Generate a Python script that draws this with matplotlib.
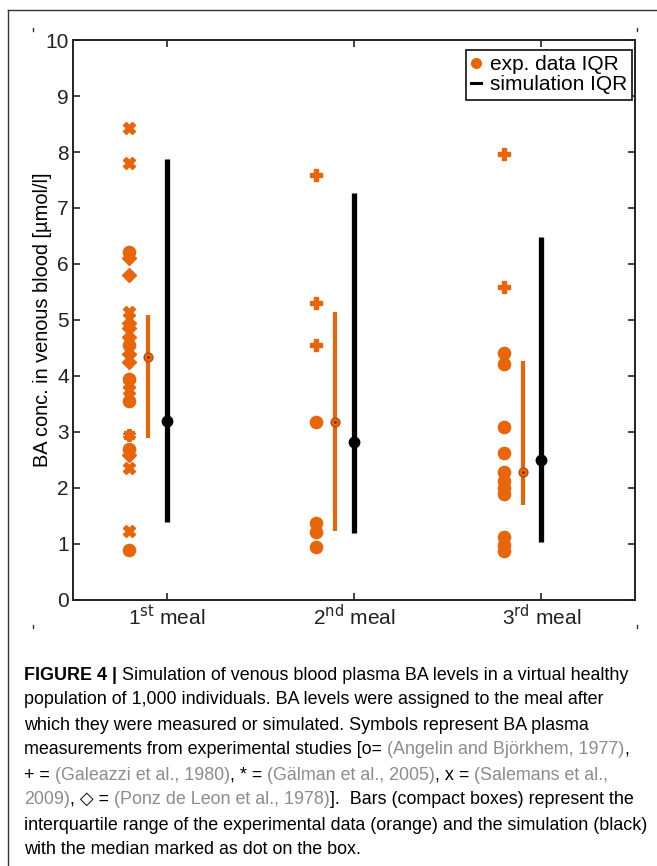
import numpy as np
import matplotlib
matplotlib.use("Agg")
import matplotlib.pyplot as plt
from matplotlib.lines import Line2D

plt.rcParams['font.family'] = ['Liberation Sans', 'DejaVu Sans']

# data
meals = ['1$^{\\mathrm{st}}$ meal', '2$^{\\mathrm{nd}}$ meal', '3$^{\\mathrm{rd}}$ meal']

# experimental points per meal, per study marker
exp_o = [[6.22, 4.55, 3.95, 3.55, 2.70, 0.90],
         [3.17, 1.38, 1.22, 0.95],
         [4.41, 4.21, 3.09, 2.63, 2.29, 2.12, 2.00, 1.90, 1.13, 0.98, 0.88]]
exp_plus = [[], [7.59, 5.30, 4.56], [7.96, 5.59]]
exp_star = [[2.95], [], []]
exp_x = [[8.43, 7.80, 5.15, 3.85, 3.75, 2.36, 1.23], [], []]
exp_d = [[6.10, 5.80, 4.95, 4.85, 4.70, 4.40, 4.25, 2.58], [], []]

exp_q1 = [2.89, 1.23, 1.70]
exp_med = [4.34, 3.17, 2.29]
exp_q3 = [5.09, 5.14, 4.27]

sim_q1 = [1.40, 1.20, 1.04]
sim_med = [3.20, 2.82, 2.50]
sim_q3 = [7.87, 7.26, 6.49]

orange = '#E8650A'
gray = '#8c8c8c'

fig = plt.figure(figsize=(6.57, 8.66), dpi=100)
ax = fig.add_axes([0.111, 0.3072, 0.8555, 0.6466])

xpos = np.arange(1, 4)
for i, x in enumerate(xpos):
    xe = x - 0.2
    ax.plot([xe] * len(exp_o[i]), exp_o[i], 'o', color=orange, ms=8.8, mec=orange)
    ax.plot([xe] * len(exp_plus[i]), exp_plus[i], 'P', color=orange, ms=9, mec=orange)
    ax.plot([xe] * len(exp_star[i]), exp_star[i], marker=(6, 2, 0), ls='none',
            color=orange, ms=9, mew=3)
    ax.plot([xe] * len(exp_x[i]), exp_x[i], 'X', color=orange, ms=9, mec=orange)
    ax.plot([xe] * len(exp_d[i]), exp_d[i], 'D', color=orange, ms=7, mec=orange)

    # experimental IQR
    ax.plot([x - 0.1, x - 0.1], [exp_q1[i], exp_q3[i]], color=orange, lw=3, solid_capstyle='butt')
    ax.plot(x - 0.1, exp_med[i], 'o', color=orange, ms=6.5, mec='#b04500', mew=0.8)
    ax.plot(x - 0.1, exp_med[i], '.', color='#402000', ms=1.5)

    # simulation IQR
    ax.plot([x, x], [sim_q1[i], sim_q3[i]], color='black', lw=3.8, solid_capstyle='butt')
    ax.plot(x, sim_med[i], 'o', color='black', ms=7.5)

ax.set_xlim(0.5, 3.5)
ax.set_ylim(0, 10)
ax.set_yticks(range(0, 11))
ax.set_xticks(xpos)
ax.set_xticklabels(meals)
ax.tick_params(direction='in', length=5, width=1.2, top=True, right=True,
               labelsize=15, colors='#222222', pad=3)
ax.tick_params(axis='x', pad=3)
for s in ax.spines.values():
    s.set_linewidth(1.4)
    s.set_color('#222222')
ax.set_ylabel('BA conc. in venous blood [µmol/l]', fontsize=14.4)
ax.yaxis.set_label_coords(-0.037, 0.5)

handles = [Line2D([], [], marker='o', ls='none', color=orange, ms=7),
           Line2D([], [], ls='-', color='black', lw=2.2)]
leg = ax.legend(handles, ['exp. data IQR', 'simulation IQR'], loc='upper right',
                fontsize=15, handlelength=0.5, handletextpad=0.4, borderpad=0.25,
                labelspacing=0.05, fancybox=False, framealpha=1, borderaxespad=0,
                edgecolor='#222222', bbox_to_anchor=(0.995, 0.982))
leg.get_frame().set_linewidth(1.3)

# outer frame
W, H = 657.0, 866.0
fig.add_artist(Line2D([8 / W, 8 / W], [0, 1 - 10 / H], color='#333333', lw=1.0,
                      transform=fig.transFigure))
fig.add_artist(Line2D([8 / W, 1], [1 - 10 / H, 1 - 10 / H], color='#333333', lw=1.0,
                      transform=fig.transFigure))
# small crop marks
for (cx, cy) in [(33, 28), (33, 625), (637, 28), (637, 625)]:
    fig.add_artist(Line2D([cx / W, cx / W], [1 - cy / H, 1 - (cy + 3) / H],
                          color='#333333', lw=1.0, transform=fig.transFigure))

# caption
cap = [
    [('FIGURE 4 |', 'k', 'bold'), (' Simulation of venous blood plasma BA levels in a virtual healthy', 'k', 'normal')],
    [('population of 1,000 individuals. BA levels were assigned to the meal after', 'k', 'normal')],
    [('which they were measured or simulated. Symbols represent BA plasma', 'k', 'normal')],
    [('measurements from experimental studies [o= ', 'k', 'normal'),
     ('(Angelin and Björkhem, 1977)', gray, 'normal'), (',', 'k', 'normal')],
    [('+ = ', 'k', 'normal'), ('(Galeazzi et al., 1980)', gray, 'normal'), (', * = ', 'k', 'normal'),
     ('(Gälman et al., 2005)', gray, 'normal'), (', x = ', 'k', 'normal'),
     ('(Salemans et al.,', gray, 'normal')],
    [('2009)', gray, 'normal'), (', \u25c7 = ', 'k', 'normal'),
     ('(Ponz de Leon et al., 1978)', gray, 'normal'),
     ('].  Bars (compact boxes) represent the', 'k', 'normal')],
    [('interquartile range of the experimental data (orange) and the simulation (black)', 'k', 'normal')],
    [('with the median marked as dot on the box.', 'k', 'normal')],
]

renderer = fig.canvas.get_renderer()
fs = 12.9
x0 = 24
for li, line in enumerate(cap):
    ypix = 675 + 25 * li
    x = x0
    for txt, col, wt in line:
        t = fig.text(x / W, 1 - ypix / H, txt, color=col, fontweight=wt, fontsize=fs,
                     va='center', ha='left', family=['Liberation Sans', 'DejaVu Sans'])
        bb = t.get_window_extent(renderer)
        x += bb.width

fig.savefig('out.png', dpi=100)
